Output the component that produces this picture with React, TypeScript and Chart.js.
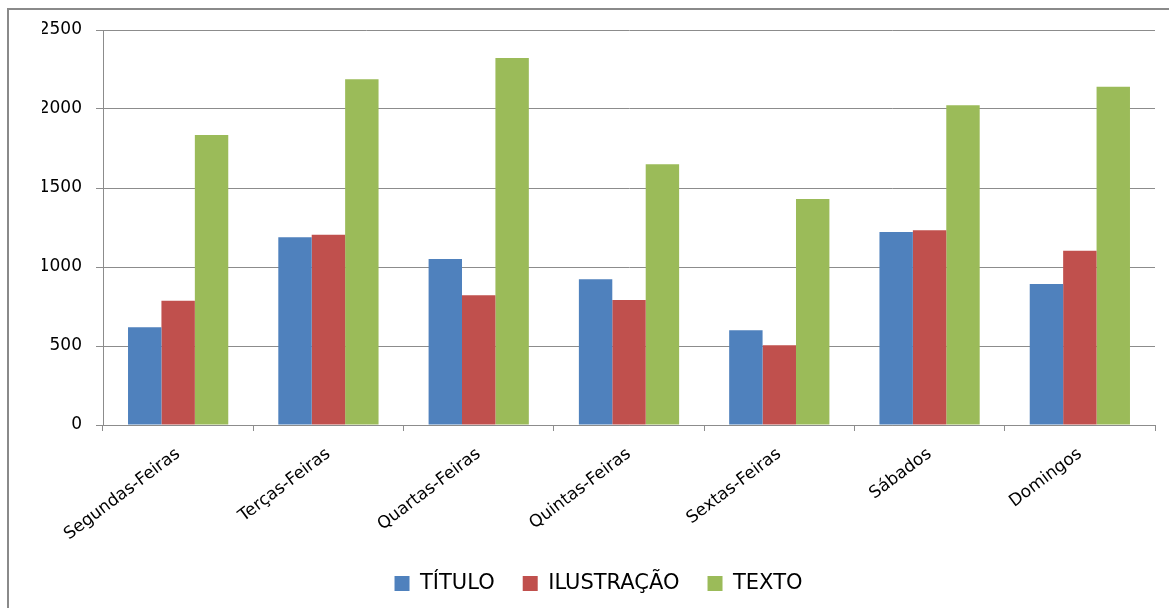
import React, { useEffect, useRef } from "react";
import { Chart, registerables } from "chart.js";

Chart.register(...registerables);

const categories = [
  "Segundas-Feiras",
  "Terças-Feiras",
  "Quartas-Feiras",
  "Quintas-Feiras",
  "Sextas-Feiras",
  "Sábados",
  "Domingos",
];
const tituloValues = [618, 1188, 1051, 922, 599, 1221, 892];
const ilustracaoValues = [787, 1204, 821, 791, 504, 1232, 1103];
const textoValues = [1835, 2188, 2323, 1650, 1430, 2023, 2141];
const seriesNames = ["TÍTULO", "ILUSTRAÇÃO", "TEXTO"];
const yTicks = [0, 500, 1000, 1500, 2000, 2500];

export default function App() {
  const ref = useRef<HTMLCanvasElement | null>(null);

  useEffect(() => {
    if (!ref.current) return;
    const chart = new Chart(ref.current, {
      type: "bar",
      data: {
        labels: categories,
        datasets: [
          { label: seriesNames[0], data: tituloValues, backgroundColor: "#4F81BD" },
          { label: seriesNames[1], data: ilustracaoValues, backgroundColor: "#C0504D" },
          { label: seriesNames[2], data: textoValues, backgroundColor: "#9BBB59" },
        ],
      },
      options: {
        animation: false,
        responsive: false,
        maintainAspectRatio: false,
        layout: { padding: { left: 42, right: 14, top: 30, bottom: 4 } },
        datasets: { bar: { categoryPercentage: 0.667, barPercentage: 1 } },
        plugins: {
          tooltip: { enabled: false },
          legend: {
            position: "bottom",
            labels: {
              boxWidth: 15,
              boxHeight: 15,
              padding: 28,
              color: "#000",
              font: { family: "DejaVu Sans", size: 21 },
            },
          },
        },
        scales: {
          x: {
            grid: {
              drawOnChartArea: false,
              drawTicks: true,
              tickLength: 6,
              color: "#8c8c8c",
            },
            border: { color: "#8c8c8c", width: 1 },
            ticks: {
              color: "#000",
              font: { family: "DejaVu Sans", size: 17 },
              maxRotation: 37,
              minRotation: 37,
              padding: 13,
            },
            afterFit: (scale: any) => {
              scale.height = 120;
            },
          },
          y: {
            min: 0,
            max: 2500,
            afterBuildTicks: (scale: any) => {
              scale.ticks = yTicks.map((v) => ({ value: v }));
            },
            grid: { color: "#8c8c8c", tickLength: 7 },
            border: { color: "#8c8c8c", width: 1 },
            ticks: {
              color: "#000",
              font: { family: "DejaVu Sans", size: 17 },
              padding: 14,
              callback: (v: any) => String(v),
            },
            afterFit: (scale: any) => {
              scale.width = 61;
            },
          },
        },
      },
    });
    return () => chart.destroy();
  }, []);

  return (
    <div style={{ position: "relative", width: 1169, height: 608, overflow: "hidden", background: "#fff" }}>
      <style>{"body{margin:0;overflow:hidden}"}</style>
      <div
        style={{
          position: "absolute",
          left: 7,
          top: 8,
          width: 1300,
          height: 800,
          border: "2px solid #8a8a8a",
          boxSizing: "border-box",
        }}
      />
      <canvas ref={ref} width={1169} height={608} style={{ position: "absolute", left: 0, top: 0, display: "block" }} />
    </div>
  );
}
